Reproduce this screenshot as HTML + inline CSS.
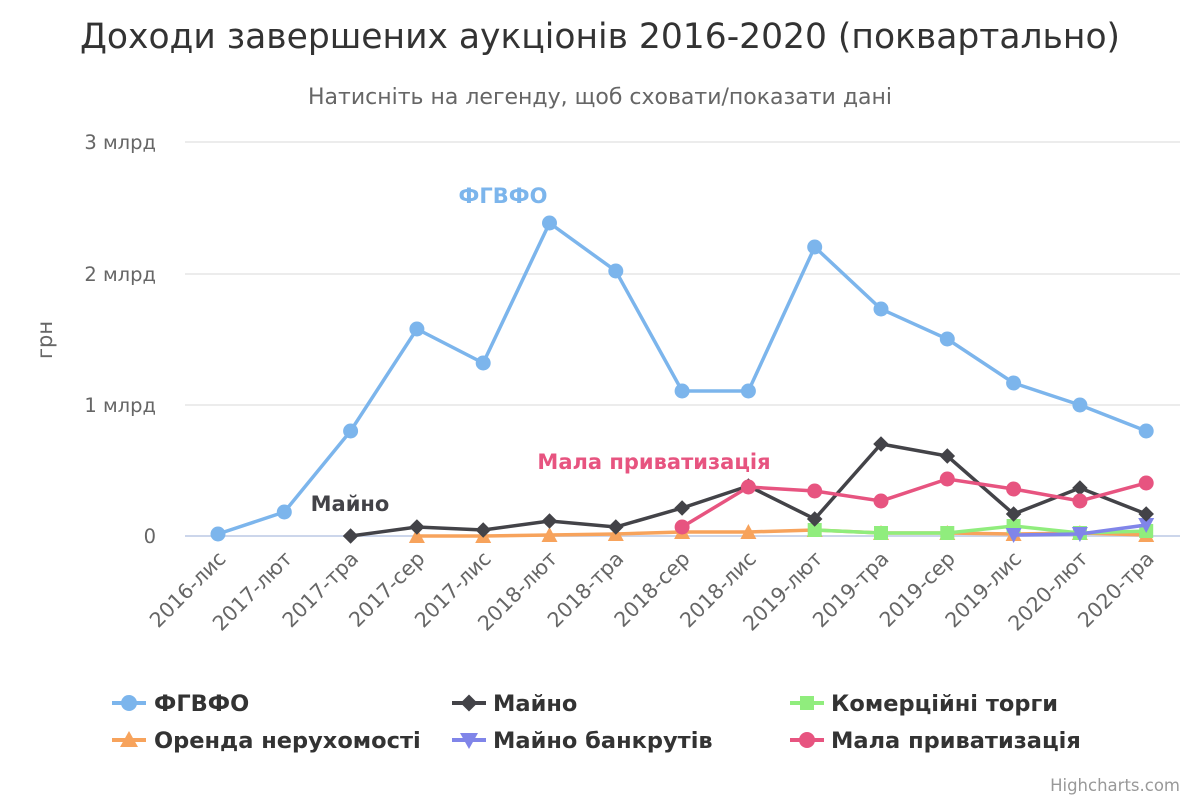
<!DOCTYPE html>
<html><head><meta charset="utf-8"><style>body{margin:0;background:#fff}svg{display:block;font-family:"DejaVu Sans","Liberation Sans",sans-serif}</style></head><body>
<svg width="1200" height="800" xmlns="http://www.w3.org/2000/svg">
<text x="600" y="48" text-anchor="middle" font-size="34.5" fill="#333">Доходи завершених аукціонів 2016-2020 (поквартально)</text>
<text x="600" y="104" text-anchor="middle" font-size="22" fill="#666">Натисніть на легенду, щоб сховати/показати дані</text>
<g stroke="#e6e6e6" stroke-width="1.5"><line x1="185" y1="142" x2="1180" y2="142"/><line x1="185" y1="274" x2="1180" y2="274"/><line x1="185" y1="405" x2="1180" y2="405"/></g>
<line x1="185" y1="536" x2="1180" y2="536" stroke="#ccd6eb" stroke-width="2"/>
<g font-size="19.5" fill="#666" text-anchor="end"><text x="156" y="149">3 млрд</text><text x="156" y="281">2 млрд</text><text x="156" y="412">1 млрд</text><text x="156" y="543">0</text></g>
<text transform="translate(52,340) rotate(-90)" text-anchor="middle" font-size="21" fill="#666">грн</text>
<g font-size="20.5" fill="#666" text-anchor="end" id="xl"></g>
<g id="s"></g>
<text x="503" y="203" text-anchor="middle" font-size="21" font-weight="bold" fill="#7cb5ec">ФГВФО</text>
<text x="350" y="511" text-anchor="middle" font-size="21" font-weight="bold" fill="#434348">Майно</text>
<text x="654" y="469" text-anchor="middle" font-size="21" font-weight="bold" fill="#e75480">Мала приватизація</text>
<g font-size="22.5" font-weight="bold" fill="#333">
<line x1="112" y1="703" x2="146" y2="703" stroke="#7cb5ec" stroke-width="4"/><circle cx="129" cy="703" r="8" fill="#7cb5ec"/><text x="154" y="711">ФГВФО</text>
<line x1="452" y1="703" x2="486" y2="703" stroke="#434348" stroke-width="4"/><rect x="463" y="697" width="12" height="12" fill="#434348" transform="rotate(45 469 703)"/><text x="493" y="711">Майно</text>
<line x1="790" y1="703" x2="824" y2="703" stroke="#90ed7d" stroke-width="4"/><rect x="800" y="696" width="14" height="14" fill="#90ed7d"/><text x="831" y="711">Комерційні торги</text>
<line x1="112" y1="740" x2="146" y2="740" stroke="#f7a35c" stroke-width="4"/><polygon points="129,731 138,747 120,747" fill="#f7a35c"/><text x="154" y="748">Оренда нерухомості</text>
<line x1="452" y1="740" x2="486" y2="740" stroke="#8085e9" stroke-width="4"/><polygon points="460,733 478,733 469,749" fill="#8085e9"/><text x="493" y="748">Майно банкрутів</text>
<line x1="790" y1="740" x2="824" y2="740" stroke="#e75480" stroke-width="4"/><circle cx="807" cy="740" r="8" fill="#e75480"/><text x="831" y="748">Мала приватизація</text>
</g>
<text x="1180" y="791" text-anchor="end" font-size="16.5" fill="#999">Highcharts.com</text>
</svg>
<script>
var X=i=>218+66.3*i,ns="http://www.w3.org/2000/svg";
var cats=["2016-лис","2017-лют","2017-тра","2017-сер","2017-лис","2018-лют","2018-тра","2018-сер","2018-лис","2019-лют","2019-тра","2019-сер","2019-лис","2020-лют","2020-тра"];
var xl=document.getElementById("xl");
cats.forEach((c,i)=>{var t=document.createElementNS(ns,"text");t.setAttribute("transform","translate("+(X(i)+9)+",560) rotate(-45)");t.textContent=c;xl.appendChild(t)});
var S=[
["#f7a35c","tri",3,[536,536,535,534,532,532,530,533,533,534,533,535]],
["#90ed7d","sq",9,[530,533,533,526,533,531]],
["#8085e9","tri2",12,[535,534,525]],
["#434348","dia",2,[536,527,530,521,527,508,486,519,444,456,514,488,514]],
["#e75480","c",7,[527,487,491,501,479,489,501,483]],
["#7cb5ec","c",0,[534,512,431,329,363,223,271,391,391,247,309,339,383,405,431]]];
var g=document.getElementById("s"),h="";
S.forEach(s=>{var p=s[3].map((y,k)=>X(s[2]+k).toFixed(1)+","+y);
h+='<polyline points="'+p.join(" ")+'" fill="none" stroke="'+s[0]+'" stroke-width="3.5"/>';
s[3].forEach((y,k)=>{var x=X(s[2]+k);
if(s[1]=="c")h+='<circle cx="'+x+'" cy="'+y+'" r="7.5" fill="'+s[0]+'"/>';
else if(s[1]=="sq")h+='<rect x="'+(x-7)+'" y="'+(y-7)+'" width="14" height="14" fill="'+s[0]+'"/>';
else if(s[1]=="tri")h+='<polygon points="'+x+','+(y-8)+' '+(x+8)+','+(y+7)+' '+(x-8)+','+(y+7)+'" fill="'+s[0]+'"/>';
else if(s[1]=="tri2")h+='<polygon points="'+(x-8)+','+(y-7)+' '+(x+8)+','+(y-7)+' '+x+','+(y+8)+'" fill="'+s[0]+'"/>';
else h+='<rect x="'+(x-5.5)+'" y="'+(y-5.5)+'" width="11" height="11" fill="'+s[0]+'" transform="rotate(45 '+x+' '+y+')"/>';});});
g.innerHTML=h;
</script>
</body></html>
